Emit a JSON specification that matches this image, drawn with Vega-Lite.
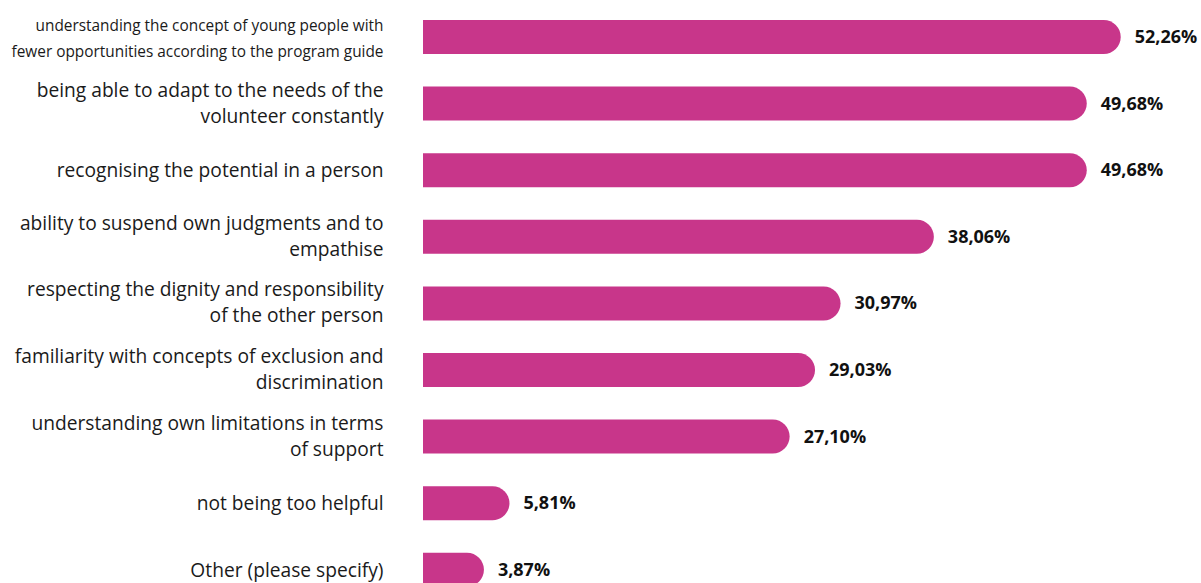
{
  "$schema": "https://vega.github.io/schema/vega-lite/v6.json",
  "autosize": {"type": "none"},
  "padding": {"left": 423, "top": 3.7, "right": 0, "bottom": 0},
  "width": 778,
  "height": {"step": 66.6},
  "background": "white",
  "config": {"view": {"stroke": null}, "font": "Open Sans"},
  "data": {
    "values": [
      {"item": "understanding the concept of young people with|fewer opportunities according to the program guide", "value": 52.26},
      {"item": "being able to adapt to the needs of the|volunteer constantly", "value": 49.68},
      {"item": "recognising the potential in a person", "value": 49.68},
      {"item": "ability to suspend own judgments and to|empathise", "value": 38.06},
      {"item": "respecting the dignity and responsibility|of the other person", "value": 30.97},
      {"item": "familiarity with concepts of exclusion and|discrimination", "value": 29.03},
      {"item": "understanding own limitations in terms|of support", "value": 27.10},
      {"item": "not being too helpful", "value": 5.81},
      {"item": "Other (please specify)", "value": 3.87}
    ]
  },
  "transform": [
    {"calculate": "replace(format(datum.value, '.2f'), '.', ',') + '%'", "as": "lbl"}
  ],
  "encoding": {
    "y": {
      "field": "item",
      "type": "nominal",
      "sort": null,
      "scale": {"paddingInner": 0.49, "paddingOuter": 0.245},
      "axis": {
        "title": null,
        "domain": false,
        "ticks": false,
        "labelPadding": 40,
        "labelLimit": 0,
        "labelFont": "Open Sans",
        "labelColor": "#1a1a1a",
        "labelLineHeight": {"condition": {"test": "indexof(datum.value, 'understanding the concept') == 0", "value": 22}, "value": 26},
        "labelFontSize": {"condition": {"test": "indexof(datum.value, 'understanding the concept') == 0", "value": 15.4}, "value": 19.2},
        "labelOffset": {"condition": [
          {"test": "indexof(datum.value, 'understanding the concept') == 0", "value": -11},
          {"test": "indexof(datum.value, '|') >= 0", "value": -13}
        ], "value": 1},
        "labelExpr": "split(datum.label, '|')"
      }
    },
    "x": {"field": "value", "type": "quantitative", "scale": {"domain": [-0.76, 58.36], "zero": false, "nice": false}, "axis": null}
  },
  "layer": [
    {
      "mark": {"type": "bar", "color": "#C8368A", "cornerRadiusTopRight": 17, "cornerRadiusBottomRight": 17},
      "encoding": {
        "x2": {"datum": -0.76}
      }
    },
    {
      "mark": {"type": "text", "align": "left", "baseline": "middle", "dx": 14, "dy": 1, "fontSize": 18, "fontWeight": "bold", "font": "Open Sans", "color": "#111111"},
      "encoding": {
        "text": {"field": "lbl"}
      }
    }
  ]
}
